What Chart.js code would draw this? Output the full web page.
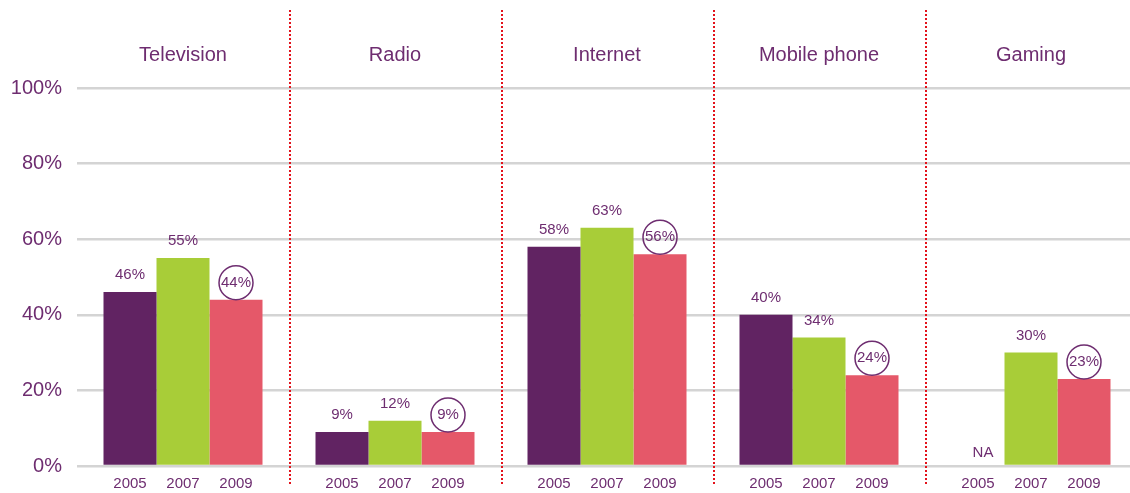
<!DOCTYPE html>
<html>
<head>
<meta charset="utf-8">
<script src="https://cdn.jsdelivr.net/npm/chart.js@4"></script>
<style>
  body { margin: 0; overflow: hidden; background: #fff; }
  canvas { display: block; }
</style>
</head>
<body>
<canvas id="mediaChart" width="1140" height="493"></canvas>
<script>
// data
const categories = ['Television', 'Radio', 'Internet', 'Mobile phone', 'Gaming'];
const years = ['2005', '2007', '2009'];
const values2005 = [46, 9, 58, 40, null];
const values2007 = [55, 12, 63, 34, 30];
const values2009 = [44, 9, 56, 24, 23];

const purpleText = '#6e2d70';
const barColors = ['#612362', '#a8cd38', '#e55869'];

// draws group titles, separators, year labels, value labels and circles
const annotations = {
    id: 'annotations',
    afterDatasetsDraw(chart) {
        const ctx = chart.ctx;
        const x = chart.scales.x;
        const area = chart.chartArea;
        ctx.save();

        // dotted separators between groups
        ctx.strokeStyle = '#e3121b';
        ctx.lineWidth = 2;
        ctx.setLineDash([2, 2]);
        for (let i = 0; i < categories.length - 1; i++) {
            const sx = Math.round((x.getPixelForValue(i) + x.getPixelForValue(i + 1)) / 2) + 1;
            ctx.beginPath();
            ctx.moveTo(sx, 10);
            ctx.lineTo(sx, 486);
            ctx.stroke();
        }
        ctx.setLineDash([]);

        // group titles
        ctx.fillStyle = purpleText;
        ctx.textAlign = 'center';
        ctx.textBaseline = 'middle';
        ctx.font = '20px "Liberation Sans", Arial, sans-serif';
        categories.forEach((c, i) => {
            ctx.fillText(c, x.getPixelForValue(i), 55);
        });

        ctx.font = '15px "Liberation Sans", Arial, sans-serif';
        chart.data.datasets.forEach((ds, d) => {
            const meta = chart.getDatasetMeta(d);
            meta.data.forEach((bar, i) => {
                // year label under each bar
                ctx.fillStyle = purpleText;
                ctx.fillText(years[d], bar.x, 484);

                const v = ds.data[i];
                if (v === null) {
                    ctx.fillText('NA', bar.x + 5, area.bottom - 13);
                    return;
                }
                const ly = bar.y - 17;
                ctx.fillText(v + '%', bar.x, ly);
                if (d === 2) {
                    ctx.strokeStyle = purpleText;
                    ctx.lineWidth = 1.5;
                    ctx.beginPath();
                    ctx.arc(bar.x, ly, 17, 0, Math.PI * 2);
                    ctx.stroke();
                }
            });
        });
        ctx.restore();
    }
};

const ctx = document.getElementById('mediaChart').getContext('2d');
new Chart(ctx, {
    type: 'bar',
    data: {
        labels: categories,
        datasets: years.map((y, d) => ({
            label: y,
            data: [values2005, values2007, values2009][d],
            backgroundColor: barColors[d],
            barPercentage: 1.0,
            categoryPercentage: 0.75
        }))
    },
    options: {
        responsive: false,
        animation: false,
        layout: { padding: { top: 88, bottom: 25, right: 3, left: 0 } },
        plugins: {
            legend: { display: false },
            tooltip: { enabled: false }
        },
        scales: {
            x: { display: false },
            y: {
                min: 0,
                max: 100,
                border: { display: false },
                grid: { color: '#d4d4d4', lineWidth: 2.5, drawTicks: false },
                ticks: {
                    stepSize: 20,
                    padding: 15,
                    color: purpleText,
                    font: { family: '"Liberation Sans", Arial, sans-serif', size: 20 },
                    callback: v => v + '%'
                },
                afterFit(scale) { scale.width = 77; }
            }
        }
    },
    plugins: [annotations]
});
</script>
</body>
</html>
